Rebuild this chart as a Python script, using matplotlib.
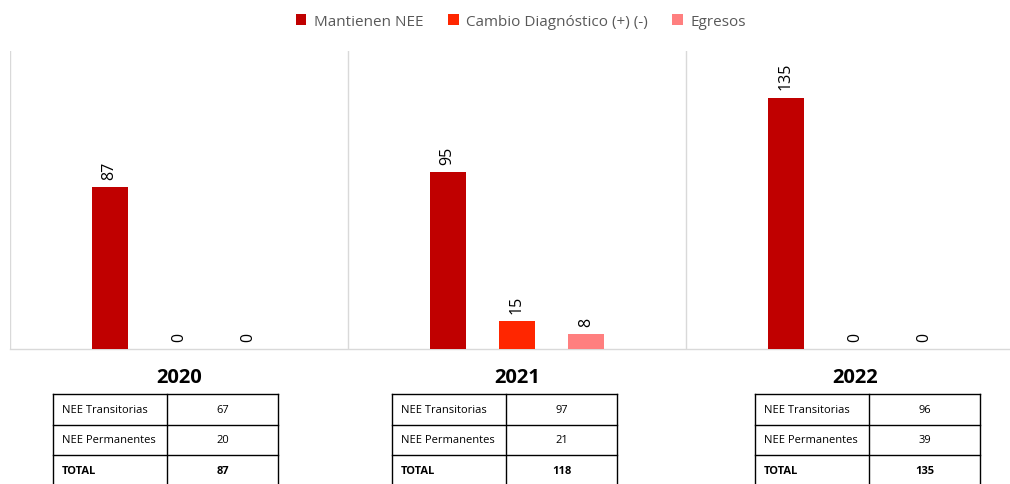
import matplotlib
matplotlib.use("Agg")
import matplotlib.pyplot as plt
import numpy as np

plt.rcParams['font.family'] = ['Open Sans', 'DejaVu Sans']

years = ['2020', '2021', '2022']
series_names = ['Mantienen NEE', 'Cambio Diagnóstico (+) (-)', 'Egresos']
mantienen = [87, 95, 135]
cambio = [0, 15, 0]
egresos = [0, 8, 0]
colors = ['#C00000', '#FF2600', '#FF7F7F']

table_rows = ['NEE Transitorias', 'NEE Permanentes', 'TOTAL']
transitorias = [67, 97, 96]
permanentes = [20, 21, 39]
totales = [87, 118, 135]

W, H = 1010, 485
fig = plt.figure(figsize=(W / 100, H / 100), dpi=100)

# main axes: x from 10px to 1024px, y from 52px to 350px
ax = fig.add_axes([10 / W, (H - 350) / H, 1014 / W, 298 / H])
x = np.arange(len(years))
off = 0.205
bw = 0.107
all_series = [mantienen, cambio, egresos]
for i, (vals, name, c) in enumerate(zip(all_series, series_names, colors)):
    xs = x + (i - 1) * off
    ax.bar(xs, vals, width=bw, color=c, label=name, zorder=3)
    for xi, v in zip(xs, vals):
        ax.annotate(str(v), (xi, v), xytext=(0, 6), textcoords='offset points',
                    rotation=90, ha='center', va='bottom', fontsize=11.5,
                    color='#000000')

ax.set_xlim(-0.5, 2.5)
ax.set_ylim(0, 160)
ax.set_yticks([])
ax.set_xticks(x)
ax.set_xticklabels(years, fontsize=14.5, fontweight='bold', color='#000000')
ax.tick_params(axis='x', length=0, pad=13)
ax.set_xticks([-0.5, 0.5, 1.5, 2.5], minor=True)
ax.tick_params(axis='x', which='minor', length=0)
ax.grid(axis='x', which='minor', color='#D9D9D9', linewidth=1, zorder=0)
for s in ['top', 'right', 'left']:
    ax.spines[s].set_visible(False)
ax.spines['bottom'].set_color('#D9D9D9')
ax.spines['bottom'].set_linewidth(1)

leg = fig.legend(loc='center', bbox_to_anchor=(521 / W, 1 - 22 / H), ncol=3,
                 frameon=False, fontsize=11, handlelength=0.7, handleheight=0.7,
                 handletextpad=0.5, columnspacing=1.6)
for t in leg.get_texts():
    t.set_color('#595959')

# tables (in pixel coordinates of the figure)
tax = fig.add_axes([0, 0, 1, 1])
tax.set_xlim(0, W)
tax.set_ylim(H, 0)
tax.axis('off')
lefts = [53, 392, 755]
col_w = [114, 111]
row_tops = [395, 426, 456, 487]
for k, left in enumerate(lefts):
    vals = [transitorias[k], permanentes[k], totales[k]]
    xl, xm, xr = left, left + col_w[0], left + col_w[0] + col_w[1]
    for yy in row_tops:
        tax.plot([xl, xr], [yy, yy], color='black', lw=1)
    for xx in [xl, xm, xr]:
        tax.plot([xx, xx], [row_tops[0], row_tops[-1]], color='black', lw=1)
    for r, (lab, v) in enumerate(zip(table_rows, vals)):
        yc = (row_tops[r] + row_tops[r + 1]) / 2
        fw = 'bold' if r == 2 else 'normal'
        tax.text(xl + 9, yc, lab, ha='left', va='center', fontsize=8, fontweight=fw)
        tax.text((xm + xr) / 2, yc, str(v), ha='center', va='center', fontsize=8, fontweight=fw)

fig.savefig('out.png', dpi=100)
